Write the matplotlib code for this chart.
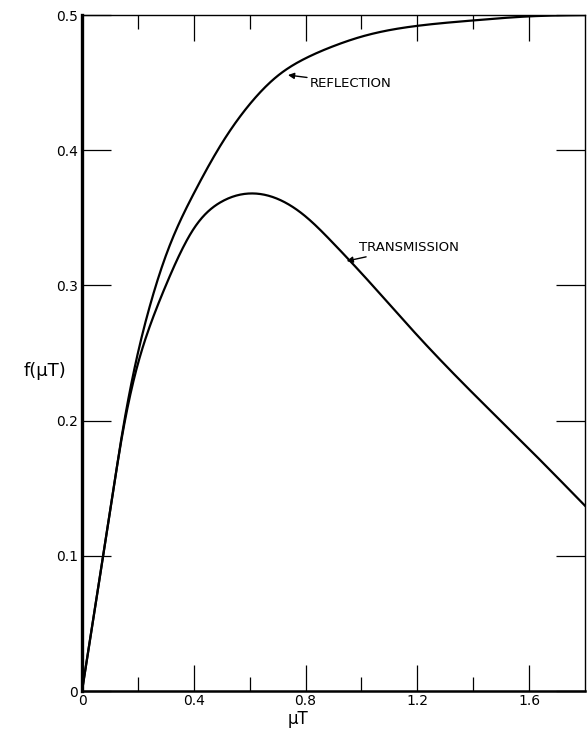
import matplotlib.pyplot as plt
import numpy as np

# values
mu_t = [0, 0.05, 0.1, 0.15, 0.2, 0.25, 0.3, 0.4, 0.5, 0.6, 0.7, 0.8, 0.9,
        1.0, 1.2, 1.4, 1.6, 1.8]
reflection = [0, 0.066, 0.133, 0.198, 0.25, 0.29, 0.322, 0.368, 0.405,
              0.434, 0.455, 0.468, 0.477, 0.484, 0.492, 0.496, 0.499, 0.5]
transmission = [0, 0.066, 0.133, 0.196, 0.242, 0.274, 0.3, 0.342, 0.362,
                0.368, 0.364, 0.351, 0.331, 0.309, 0.263, 0.22, 0.179, 0.137]

x_major = [0, 0.4, 0.8, 1.2, 1.6]
x_major_labels = ['0', '0.4', '0.8', '1.2', '1.6']
x_minor = [0.2, 0.6, 1.0, 1.4]
y_ticks = [0, 0.1, 0.2, 0.3, 0.4, 0.5]
y_labels = ['0', '0.1', '0.2', '0.3', '0.4', '0.5']


def spline(x, y, n=500):
    # natural cubic spline through the read points
    x = np.asarray(x, float)
    y = np.asarray(y, float)
    h = np.diff(x)
    N = len(x)
    A = np.zeros((N, N))
    b = np.zeros(N)
    A[0, 0] = A[-1, -1] = 1
    for i in range(1, N - 1):
        A[i, i - 1] = h[i - 1]
        A[i, i] = 2 * (h[i - 1] + h[i])
        A[i, i + 1] = h[i]
        b[i] = 6 * ((y[i + 1] - y[i]) / h[i] - (y[i] - y[i - 1]) / h[i - 1])
    M = np.linalg.solve(A, b)
    xs = np.linspace(x[0], x[-1], n)
    k = np.clip(np.searchsorted(x, xs) - 1, 0, N - 2)
    a = x[k + 1] - xs
    c = xs - x[k]
    hk = h[k]
    ys = (M[k] * a**3 / (6 * hk) + M[k + 1] * c**3 / (6 * hk)
          + (y[k] / hk - M[k] * hk / 6) * a
          + (y[k + 1] / hk - M[k + 1] * hk / 6) * c)
    return xs, ys


fig = plt.figure(figsize=(5.87, 7.29), dpi=100)
ax = fig.add_axes([0.1397, 0.0521, 0.857, 0.9273])

xr, yr = spline(mu_t, reflection)
xt, yt = spline(mu_t, transmission)
ax.plot(xr, yr, color='black', lw=1.6)
ax.plot(xt, yt, color='black', lw=1.6)

ax.set_xlim(0, 1.8)
ax.set_ylim(0, 0.5)

ax.set_xticks(x_major)
ax.set_xticklabels(x_major_labels)
ax.set_xticks(x_minor, minor=True)
ax.set_yticks(y_ticks)
ax.set_yticklabels(y_labels)

ax.tick_params(axis='x', which='major', direction='in', length=19, width=0.9,
               top=True, labelsize=10, pad=2)
ax.tick_params(axis='x', which='minor', direction='in', length=10, width=0.9,
               top=True)
ax.tick_params(axis='y', which='major', direction='in', length=21, width=0.9,
               right=True, labelsize=10, pad=3)

ax.spines['left'].set_linewidth(2.4)
ax.spines['bottom'].set_linewidth(1.8)
ax.spines['top'].set_linewidth(1.0)
ax.spines['right'].set_linewidth(1.0)

ax.set_xlabel('μT', fontsize=12)
ax.xaxis.set_label_coords(0.43, -0.028)
ax.set_ylabel('f(μT)', fontsize=13, rotation=0)
ax.yaxis.set_label_coords(-0.073, 0.46)

arrow = dict(arrowstyle='-|>', color='black', lw=1.0, mutation_scale=9,
             shrinkA=0, shrinkB=0)
ax.annotate('REFLECTION', xy=(0.737, 0.4556), xytext=(0.815, 0.4497),
            fontsize=9.5, va='center', ha='left', arrowprops=arrow)
ax.annotate('TRANSMISSION', xy=(0.947, 0.318), xytext=(0.99, 0.328),
            fontsize=9.5, va='center', ha='left', arrowprops=arrow)

fig.savefig('out.png', dpi=100)
